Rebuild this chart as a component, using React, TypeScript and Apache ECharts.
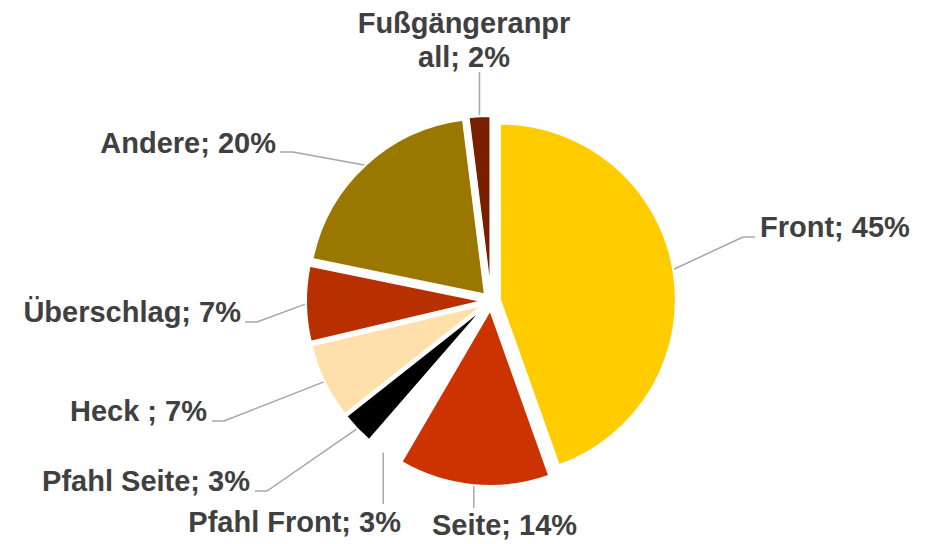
import React, { useEffect, useRef } from "react";
import * as echarts from "echarts";

const categories = [
  "Front",
  "Seite",
  "Pfahl Front",
  "Pfahl Seite",
  "Heck ",
  "Überschlag",
  "Andere",
  "Fußgängeranprall",
];
// label text as wrapped in the reference
const labelNames = [
  "Front",
  "Seite",
  "Pfahl Front",
  "Pfahl Seite",
  "Heck ",
  "Überschlag",
  "Andere",
  "Fußgängeranpr\nall",
];
const shares = [45, 14, 3, 3, 7, 7, 20, 2];
const sliceColors = [
  "#FFCC00",
  "#CC3300",
  "#FFFFFF",
  "#000000",
  "#FFE0AA",
  "#B83000",
  "#9A7800",
  "#7A1E00",
];

// label placement (text anchor + leader-line bends; null x = use anchor x)
const labelPlacement: { x: number; y: number; align: string; guide: (number | null)[][] }[] = [
  { x: 760, y: 227, align: "left", guide: [[743, 237], [755, 237]] },
  { x: 432, y: 525, align: "left", guide: [[null, 508]] },
  { x: 401, y: 522, align: "right", guide: [[null, 504]] },
  { x: 250, y: 481, align: "right", guide: [[267, 491], [255, 491]] },
  { x: 207, y: 411, align: "right", guide: [[224, 421], [212, 421]] },
  { x: 241, y: 312, align: "right", guide: [[257, 322], [245, 322]] },
  { x: 276, y: 143, align: "right", guide: [[293, 152], [280, 152]] },
  { x: 464, y: 40, align: "center", guide: [[null, 72]] },
];

const CENTER = [491, 301];
const RADIUS = 176;
const OFFSET = 9;
const FONT = "'Liberation Sans', Arial, sans-serif";

export default function App() {
  const ref = useRef<HTMLDivElement>(null);

  useEffect(() => {
    if (!ref.current) return;
    const chart = echarts.init(ref.current, undefined, { renderer: "svg" });

    const option: any = {
      animation: false,
      backgroundColor: "#FFFFFF",
      series: [
        {
          type: "pie",
          center: CENTER,
          radius: RADIUS,
          startAngle: 90,
          clockwise: true,
          selectedMode: "multiple",
          selectedOffset: OFFSET,
          label: { show: false },
          labelLine: { show: false },
          itemStyle: { borderColor: "#FFFFFF", borderWidth: 2 },
          emphasis: { disabled: true },
          silent: true,
          data: categories.map((name, i) => ({
            name,
            value: shares[i],
            selected: true,
            itemStyle: { color: sliceColors[i] },
          })),
        },
        {
          type: "pie",
          center: CENTER,
          radius: RADIUS + OFFSET,
          startAngle: 90,
          clockwise: true,
          silent: true,
          avoidLabelOverlap: false,
          emphasis: { disabled: true },
          itemStyle: { color: "rgba(0,0,0,0)", borderWidth: 0 },
          label: {
            show: true,
            position: "outside",
            formatter: (p: any) => `${labelNames[p.dataIndex]}; ${p.value}%`,
            color: "#404040",
            fontSize: 29,
            fontWeight: "bold",
            fontFamily: FONT,
            lineHeight: 34,
            align: "center",
          },
          labelLine: {
            show: true,
            length: 10,
            length2: 10,
            lineStyle: { color: "#A6A6A6", width: 1.5 },
          },
          labelLayout: (params: any) => {
            const p = labelPlacement[params.dataIndex];
            const pts = params.labelLinePoints;
            const res: any = {
              x: p.x,
              y: p.y,
              align: p.align,
              verticalAlign: "middle",
            };
            if (pts && pts.length) {
              const a = pts[0];
              res.labelLinePoints = [
                [a[0], a[1]],
                ...p.guide.map((g) => [g[0] == null ? a[0] : g[0], g[1] as number]),
              ];
            }
            return res;
          },
          data: categories.map((name, i) => ({ name, value: shares[i] })),
        },
      ],
    };

    chart.setOption(option);
    return () => chart.dispose();
  }, []);

  return (
    <div
      ref={ref}
      style={{ position: "absolute", left: 0, top: 0, width: 935, height: 544 }}
    />
  );
}
